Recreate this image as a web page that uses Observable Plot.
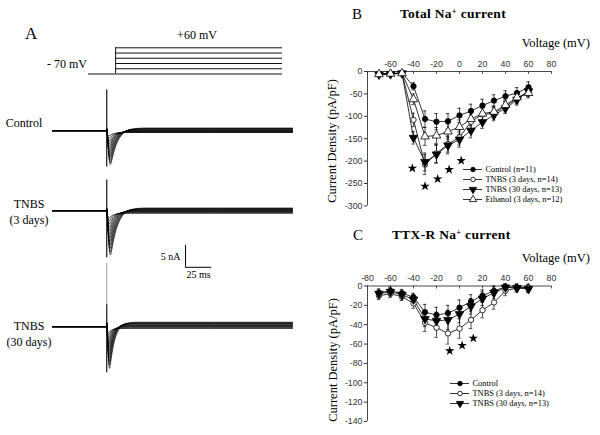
<!DOCTYPE html>
<html><head><meta charset="utf-8">
<script src="https://cdn.jsdelivr.net/npm/d3@7"></script>
<script src="https://cdn.jsdelivr.net/npm/@observablehq/plot@0.6"></script>
<style>
body{margin:0;background:#fff;}
#fig{position:relative;width:600px;height:435px;overflow:hidden;background:#fff;font-family:"Liberation Serif","DejaVu Serif",serif;color:#000;}
#fig .lab{position:absolute;white-space:nowrap;line-height:1;}
#fig svg{position:absolute;overflow:visible;background:transparent !important;}
</style></head><body><div id="fig"></div>
<script>
// ---------- Panel A data ----------
const protocolHolding = [-70];                 // mV
const protocolSteps = [-70, -44, -18, 8, 34, 60]; // mV step levels
const protocolTimes = [-26, 0, 160];           // ms: holding start, step start, step end
const traceWindow = [-52, 178];                // ms
const traceT = [0, 0.8, 1.6, 2.4, 3.2, 4.5, 6, 8, 10.5, 13.5, 18, 25];
const traceShape = [0, 0.45, 0.85, 1, 0.9, 0.68, 0.48, 0.3, 0.16, 0.07, 0.02, 0];

const controlPeaks = [-8.3, -7.7, -7.0, -6.3, -5.6, -4.9, -4.2, -3.5, -2.8, -2.1, -1.4, -0.8];
const controlScale = [1.45, 1.4, 1.35, 1.3, 1.25, 1.2, 1.15, 1.1, 1.05, 1.0, 0.95, 0.9];
const controlOffset = [0.6, 0.5, 0.4, 0.3, 0.2, 0.1, 0, -0.1, -0.2, -0.3, -0.35, -0.4];
const controlSpike = [-8.3, 9.3];

const tnbs3Peaks = [-10.7, -9.9, -9.0, -8.1, -7.2, -6.3, -5.4, -4.5, -3.6, -2.7, -1.8, -1.0];
const tnbs3Scale = [1.45, 1.4, 1.35, 1.3, 1.25, 1.2, 1.15, 1.1, 1.05, 1.0, 0.95, 0.9];
const tnbs3Offset = [0.6, 0.5, 0.4, 0.3, 0.2, 0.1, 0, -0.1, -0.2, -0.3, -0.45, -0.6];
const tnbs3Spike = [-10.7, 7];

const tnbs30Peaks = [-10.5, -9.6, -8.7, -7.8, -6.9, -6.0, -5.1, -4.2, -3.3, -2.4, -1.6, -0.9];
const tnbs30Scale = [1.1, 1.05, 1.0, 0.97, 0.94, 0.9, 0.87, 0.84, 0.8, 0.77, 0.74, 0.7];
const tnbs30Offset = [1.0, 0.9, 0.8, 0.7, 0.55, 0.4, 0.3, 0.2, 0.05, -0.1, -0.25, -0.4];
const tnbs30Spike = [-10.5, 5];
const tnbs30SpikeFaint = [5, 14.5];

const scaleBarOrigin = [75.5, -12.9];  // ms, nA
const scaleBarSize = [25, 5];          // ms, nA

// ---------- Panel B data (Total Na+ current) ----------
const voltages = [-70, -60, -50, -40, -30, -20, -10, 0, 10, 20, 30, 40, 50, 60];
const bControl = [-5, -4, -3, -33, -106, -112, -111, -98, -88, -76, -65, -55, -48, -35];
const bTnbs3   = [-6, -5, -4, -108, -208, -183, -162, -147, -112, -96, -93, -78, -60, -45];
const bTnbs30  = [-7, -6, -4, -148, -202, -185, -165, -152, -132, -113, -97, -82, -63, -44];
const bEthanol = [-6, -5, -4, -62, -145, -143, -134, -124, -106, -94, -90, -75, -58, -48];
const bControlErr = [3, 3, 2, 8, 18, 18, 17, 16, 15, 14, 13, 12, 12, 12];
const bTnbs3Err   = [3, 3, 2, 15, 22, 20, 18, 17, 15, 14, 13, 12, 12, 11];
const bTnbs30Err  = [3, 3, 2, 14, 20, 20, 19, 17, 16, 14, 13, 12, 12, 11];
const bEthanolErr = [3, 3, 2, 12, 20, 18, 17, 16, 15, 14, 13, 12, 12, 11];
const bStarV = [-41, -30, -19, -9, 1.5];
const bStarY = [-216, -256, -240, -219, -199];
const bLegend = ["Control (n=11)", "TNBS (3 days, n=14)", "TNBS (30 days, n=13)", "Ethanol (3 days, n=12)"];
const bXTicks = [-60, -40, -20, 0, 20, 40, 60, 80];
const bYTicks = [0, -50, -100, -150, -200, -250, -300];

// ---------- Panel C data (TTX-R Na+ current) ----------
const cControl = [-7, -5, -7.5, -11.5, -27, -30, -28, -22.5, -16, -10, -5, -1, -1.5, -2];
const cTnbs3   = [-10, -8, -11, -18, -38, -43, -49, -44, -35, -25, -17, -5, -2, -2];
const cTnbs30  = [-8, -6, -9, -14, -34, -36, -35, -29, -21, -13, -7, -1.5, -2, -3];
const cControlErr = [4, 4, 4, 4, 8, 8, 8, 8, 7, 6, 5, 3, 3, 3];
const cTnbs3Err   = [4, 4, 4, 5, 9, 10, 11, 10, 9, 8, 7, 5, 4, 4];
const cTnbs30Err  = [4, 4, 4, 5, 8, 9, 10, 9, 8, 7, 6, 4, 4, 4];
const cStarV = [-8.5, 2.3, 12];
const cStarY = [-67, -61.5, -54];
const cLegend = ["Control", "TNBS (3 days, n=14)", "TNBS (30 days, n=13)"];
const cXTicks = [-80, -60, -40, -20, 0, 20, 40, 60, 80];
const cYTicks = [0, -20, -40, -60, -80, -100, -120, -140];

// ---------- helpers ----------
const fig = document.getElementById("fig");
const SERIF = '"Liberation Serif","DejaVu Serif",serif';
const SANS = '"Liberation Sans",Arial,sans-serif';
function place(el, left, top) {
  el.style.position = "absolute";
  el.style.left = left + "px";
  el.style.top = top + "px";
  el.style.background = "transparent";
  fig.appendChild(el);
}
function label(html, x, y, {size = 12, anchor = "middle", weight = "normal", spacing = 0} = {}) {
  const d = document.createElement("div");
  d.className = "lab";
  d.innerHTML = html;
  d.style.left = x + "px";
  d.style.top = y + "px";
  d.style.fontSize = size + "px";
  d.style.fontWeight = weight;
  d.style.letterSpacing = spacing + "px";
  const tx = anchor === "start" ? "0" : anchor === "end" ? "-100%" : "-50%";
  d.style.transform = `translate(${tx},-50%)`;
  fig.appendChild(d);
  return d;
}
function vlabel(text, cx, cy, size) {
  const d = document.createElement("div");
  d.className = "lab";
  d.textContent = text;
  d.style.left = cx + "px";
  d.style.top = cy + "px";
  d.style.fontSize = size + "px";
  d.style.transform = "translate(-50%,-50%) rotate(-90deg)";
  fig.appendChild(d);
}

// ---------- Panel A: stimulus ----------
{
  const p = Plot.plot({
    width: 300, height: 90,
    marginLeft: 88, marginRight: 18, marginTop: 47.3, marginBottom: 16.5,
    x: {domain: [protocolTimes[0], protocolTimes[2]], axis: null},
    y: {domain: [-70, 60], axis: null},
    style: {background: "transparent"},
    marks: [
      Plot.ruleY(protocolHolding, {y: d => d, x1: protocolTimes[0], x2: protocolTimes[1], stroke: "#111", strokeWidth: 1}),
      Plot.ruleX([protocolTimes[1]], {y1: d3.min(protocolSteps), y2: d3.max(protocolSteps), stroke: "#111", strokeWidth: 1}),
      Plot.ruleY(protocolSteps, {y: d => d, x1: protocolTimes[1], x2: protocolTimes[2], stroke: "#111", strokeWidth: 1})
    ]
  });
  place(p, 0, 0);
}

// ---------- Panel A: traces ----------
function tracePlot(peaks, scale, offset, spike, top, extra = []) {
  const rows = [];
  peaks.forEach((pk, i) => {
    rows.push({id: i, t: traceWindow[0], I: 0});
    rows.push({id: i, t: 0, I: 0});
    traceT.forEach((tt, k) => rows.push({id: i, t: tt * scale[i], I: pk * traceShape[k] + offset[i]}));
    rows.push({id: i, t: traceWindow[1], I: offset[i]});
  });
  const p = Plot.plot({
    width: 300, height: 136,
    marginLeft: 52, marginRight: 8, marginTop: 0, marginBottom: 0,
    x: {domain: traceWindow, axis: null},
    y: {domain: [-15, 16], axis: null},
    style: {background: "transparent"},
    marks: [
      ...extra,
      Plot.line(rows, {x: "t", y: "I", z: "id", stroke: "#000", strokeWidth: 0.7, curve: "monotone-x"}),
      Plot.ruleX([0], {y1: spike[0], y2: spike[1], stroke: "#000", strokeWidth: 1.1})
    ]
  });
  place(p, 0, top);
}
tracePlot(controlPeaks, controlScale, controlOffset, controlSpike, 60.3);
tracePlot(tnbs3Peaks, tnbs3Scale, tnbs3Offset, tnbs3Spike, 140.3, [
  Plot.ruleX([scaleBarOrigin], {x: d => d[0], y1: d => d[1], y2: d => d[1] + scaleBarSize[1], stroke: "#000", strokeWidth: 1}),
  Plot.ruleY([scaleBarOrigin], {y: d => d[1], x1: d => d[0], x2: d => d[0] + scaleBarSize[0], stroke: "#000", strokeWidth: 1}),
  Plot.text([scaleBarOrigin], {x: d => d[0], y: d => d[1] + scaleBarSize[1] / 2, text: () => scaleBarSize[1] + " nA", textAnchor: "end", dx: -5, fontSize: 10, fontFamily: SERIF}),
  Plot.text([scaleBarOrigin], {x: d => d[0] + scaleBarSize[0] / 2, y: d => d[1], text: () => scaleBarSize[0] + " ms", dy: 8, fontSize: 10, fontFamily: SERIF})
]);
tracePlot(tnbs30Peaks, tnbs30Scale, tnbs30Offset, tnbs30Spike, 256.3, [
  Plot.ruleX([0], {y1: tnbs30SpikeFaint[0], y2: tnbs30SpikeFaint[1], stroke: "#999", strokeWidth: 1})
]);

// ---------- Panel B & C: I-V plots ----------
function ivPlot({series, yDomain, xTicks, yTicks, stars, top, marginTop, marginBottom}) {
  const height = 215;
  const pxPerUnit = (height - marginTop - marginBottom) / (yDomain[1] - yDomain[0]);
  const rows = [];
  series.forEach(s => s.values.forEach((m, i) => rows.push({name: s.name, v: voltages[i], m, e: s.errors[i]})));
  const tickMarks = [-80, -60, -40, -20, 0, 20, 40, 60, 80];
  const marks = [
    Plot.ruleY([0], {stroke: "#333", strokeWidth: 0.9}),
    Plot.ruleX([-80], {y1: yDomain[0], y2: 0, stroke: "#333", strokeWidth: 0.9}),
    Plot.ruleX(tickMarks, {x: d => d, y1: 0, y2: -3 / pxPerUnit, stroke: "#333", strokeWidth: 0.8}),
    Plot.axisX({anchor: "top", label: null, ticks: xTicks, tickSize: 0, tickPadding: 5, tickFormat: d => String(d), fontSize: 8.8, fontFamily: SANS, fill: "#333"}),
    Plot.axisY({anchor: "left", label: null, ticks: yTicks, tickSize: 3, tickPadding: 2, tickFormat: d => String(d), fontSize: 8.8, fontFamily: SANS, fill: "#333", stroke: "#333"}),
    Plot.ruleX(rows, {x: "v", y1: d => d.m - d.e, y2: d => d.m + d.e, stroke: "#000", strokeWidth: 0.7}),
    Plot.ruleY(rows, {y: d => d.m + d.e, x1: d => d.v - 1.5, x2: d => d.v + 1.5, stroke: "#000", strokeWidth: 0.7}),
    Plot.ruleY(rows, {y: d => d.m - d.e, x1: d => d.v - 1.5, x2: d => d.v + 1.5, stroke: "#000", strokeWidth: 0.7}),
    Plot.line(rows, {x: "v", y: "m", z: "name", stroke: "#000", strokeWidth: 0.8}),
    ...series.map(s => Plot.dot(rows.filter(r => r.name === s.name), {x: "v", y: "m", symbol: s.symbol, r: s.r, fill: s.fill, stroke: "#000", strokeWidth: 0.8, rotate: s.rotate || 0})),
    Plot.dot(stars, {x: d => d[0], y: d => d[1], symbol: "star", r: 3, fill: "#000", stroke: "none"})
  ];
  const p = Plot.plot({
    width: 300, height,
    marginLeft: 67, marginRight: 49, marginTop, marginBottom,
    x: {domain: [-80, 80]},
    y: {domain: yDomain},
    style: {background: "transparent", color: "#333"},
    marks
  });
  place(p, 300, top);
}
function legendPlot(series, left, top, rowGap) {
  const n = series.length;
  const h = (n - 1) * rowGap + 10;
  const p = Plot.plot({
    width: 120, height: h,
    marginLeft: 0, marginRight: 101, marginTop: 5, marginBottom: 5,
    y: {type: "point", domain: series.map(s => s.name), axis: null, padding: 0},
    style: {background: "transparent"},
    marks: [
      Plot.ruleY(series, {y: "name", stroke: "#000", strokeWidth: 0.8}),
      ...series.map(s => Plot.dot([s], {y: "name", frameAnchor: "middle", symbol: s.symbol, r: s.r * 0.85, fill: s.fill, stroke: "#000", strokeWidth: 0.8, rotate: s.rotate || 0})),
      Plot.text(series, {y: "name", text: "name", frameAnchor: "right", textAnchor: "start", dx: 3, fontSize: 8.4, fontFamily: SERIF, fill: "#000"})
    ]
  });
  place(p, left, top - 5);
}
const styleControl = {symbol: "circle", fill: "#000", r: 2.7};
const styleTnbs3 = {symbol: "circle", fill: "#fff", r: 2.7};
const styleTnbs30 = {symbol: "triangle", fill: "#000", r: 3.2, rotate: 180};
const styleEthanol = {symbol: "triangle", fill: "#fff", r: 3.2};

const bSeries = [
  {name: bLegend[0], values: bControl, errors: bControlErr, ...styleControl},
  {name: bLegend[1], values: bTnbs3, errors: bTnbs3Err, ...styleTnbs3},
  {name: bLegend[2], values: bTnbs30, errors: bTnbs30Err, ...styleTnbs30},
  {name: bLegend[3], values: bEthanol, errors: bEthanolErr, ...styleEthanol}
];
ivPlot({series: bSeries, yDomain: [-300, 0], xTicks: bXTicks, yTicks: bYTicks,
  stars: bStarV.map((v, i) => [v, bStarY[i]]), top: 0, marginTop: 71, marginBottom: 9.6});
legendPlot(bSeries, 463, 169.3, 10.2);

const cSeries = [
  {name: cLegend[0], values: cControl, errors: cControlErr, ...styleControl},
  {name: cLegend[1], values: cTnbs3, errors: cTnbs3Err, ...styleTnbs3},
  {name: cLegend[2], values: cTnbs30, errors: cTnbs30Err, ...styleTnbs30}
];
ivPlot({series: cSeries, yDomain: [-140, 0], xTicks: cXTicks, yTicks: cYTicks,
  stars: cStarV.map((v, i) => [v, cStarY[i]]), top: 220, marginTop: 65.5, marginBottom: 14});
legendPlot(cSeries, 450, 382, 10.5);

// ---------- Text ----------
const sup = "<sup style='font-size:8.5px;vertical-align:4px;line-height:0'>+</sup>";
label("A", 25, 33, {size: 17, anchor: "start"});
label("+60 mV", 197, 35, {size: 12});
label("- 70 mV", 67, 64, {size: 12});
label("Control", 24, 123, {size: 12});
label("TNBS", 29, 204, {size: 12});
label("(3 days)", 29, 219.5, {size: 12});
label("TNBS", 29, 325.5, {size: 12});
label("(30 days)", 29, 342, {size: 12});

label("B", 352, 13.5, {size: 15, anchor: "start"});
label("Total Na" + sup + " current", 400, 13.5, {size: 13.5, anchor: "start", weight: "bold", spacing: 0.3});
label("Voltage (mV)", 590, 43, {size: 12.5, anchor: "end"});
vlabel("Current Density (pA/pF)", 332, 141, 12.5);

label("C", 353, 235, {size: 15, anchor: "start"});
label("TTX-R Na" + sup + " current", 392, 235, {size: 13.5, anchor: "start", weight: "bold", spacing: 0.3});
label("Voltage (mV)", 590, 257.5, {size: 12.5, anchor: "end"});
vlabel("Current Density (pA/pF)", 333, 360, 12.5);
</script></body></html>
